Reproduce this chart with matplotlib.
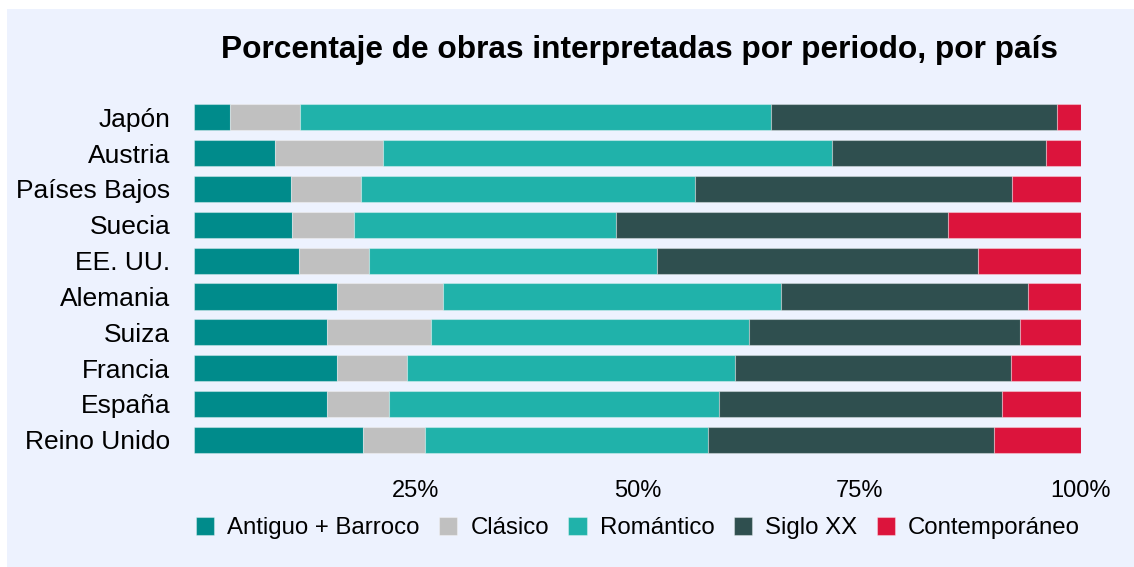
import matplotlib
matplotlib.use("Agg")
import matplotlib.pyplot as plt
from matplotlib.patches import Rectangle
import numpy as np

# Share of performed works by period (percent)
countries = ["Japón", "Austria", "Países Bajos", "Suecia", "EE. UU.",
             "Alemania", "Suiza", "Francia", "España", "Reino Unido"]
periods = ["Antiguo + Barroco", "Clásico", "Romántico", "Siglo XX", "Contemporáneo"]
colors = ["#008b8b", "#c0c0c0", "#20b2aa", "#2f4f4f", "#dc143c"]

antiguo = [4.1, 9.1, 10.9, 11.1, 11.8, 16.1, 15.0, 16.1, 15.0, 19.1]
clasico = [7.9, 12.2, 7.9, 7.0, 7.9, 12.0, 11.7, 7.9, 7.0, 7.0]
romantico = [53.1, 50.6, 37.7, 29.5, 32.5, 38.1, 35.9, 37.0, 37.2, 31.9]
siglo_xx = [32.2, 24.2, 35.8, 37.4, 36.2, 27.9, 30.6, 31.1, 31.9, 32.2]
contemporaneo = [2.7, 3.9, 7.7, 15.0, 11.6, 5.9, 6.8, 7.9, 8.9, 9.8]

xticks = [25, 50, 75, 100]
xticklabels = ["25%", "50%", "75%", "100%"]

BG = "#edf2fe"
plt.rcParams["font.family"] = ["Liberation Sans", "DejaVu Sans"]

W, H = 1134, 567
fig = plt.figure(figsize=(W / 100, H / 100), dpi=100, facecolor="white")
fig.patches.append(Rectangle((7 / W, 0), 1, 1 - 9 / H, transform=fig.transFigure,
                             facecolor=BG, edgecolor="none", zorder=-10))

ax = fig.add_axes([194 / W, 1 - 457.7 / H, 886.7 / W, 358.3 / H])
ax.set_facecolor(BG)
ax.patch.set_alpha(0)

y = np.arange(len(countries))
left = np.zeros(len(countries))
for label, vals, c in zip(periods, [antiguo, clasico, romantico, siglo_xx, contemporaneo], colors):
    ax.barh(y, vals, left=left, height=0.73, color=c, label=label,
            edgecolor=(1, 1, 1, 0.35), linewidth=0.8)
    left += np.array(vals)

ax.set_xlim(0, 100)
ax.set_ylim(len(countries) - 0.5, -0.5)
ax.set_yticks(y)
ax.set_yticklabels(countries, fontsize=19)
ax.set_xticks(xticks)
ax.set_xticklabels(xticklabels, fontsize=17)
ax.tick_params(axis="both", length=0)
ax.tick_params(axis="y", pad=17)
ax.tick_params(axis="x", pad=16)
for s in ax.spines.values():
    s.set_visible(False)

fig.text(639 / W, 1 - 58 / H, "Porcentaje de obras interpretadas por periodo, por país",
         ha="center", va="baseline", fontsize=22.8, fontweight="bold")

handles, labels = ax.get_legend_handles_labels()
fig.legend(handles, labels, ncol=5, loc="center", bbox_to_anchor=(638 / W, 1 - 528 / H),
           frameon=False, fontsize=17.3, handlelength=0.76, handleheight=0.76,
           handletextpad=0.55, columnspacing=0.8, borderaxespad=0)

fig.savefig("out.png", dpi=100, facecolor="white")
